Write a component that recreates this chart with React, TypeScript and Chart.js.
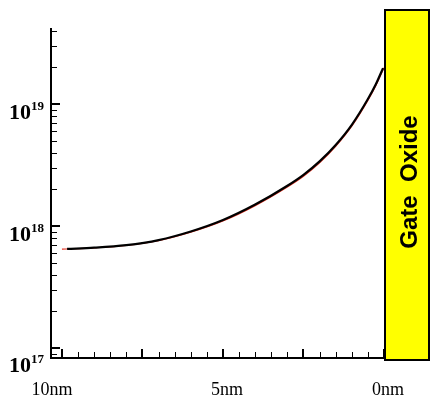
import React, { useEffect, useRef } from "react";
import { Chart, registerables } from "chart.js";

Chart.register(...registerables);

// Depth from the gate oxide interface (nm)
const blackDepth = [9.84, 9, 8, 7, 6, 5, 4, 3, 2.5, 2, 1.5, 1, 0.5, 0.25, 0.03];
const blackConc = [6.49e17, 6.64e17, 6.97e17, 7.67e17, 9.02e17, 1.12e18, 1.5e18, 2.14e18, 2.63e18, 3.39e18, 4.62e18, 6.76e18, 1.1e19, 1.46e19, 1.97e19];

const redDepth = [10, 9, 8, 7, 6, 5, 4, 3, 2.5, 2, 1.5, 1, 0.5, 0.25, 0];
const redConc = [6.46e17, 6.62e17, 6.93e17, 7.6e17, 8.9e17, 1.1e18, 1.47e18, 2.09e18, 2.56e18, 3.3e18, 4.5e18, 6.58e18, 1.07e19, 1.42e19, 1.98e19];

const xLabelValues = [10, 5, 0];
const xLabelTexts = ["10nm", "5nm", "0nm"];
const xMajorTicks = [10, 7.5, 5, 2.5, 0];
const yDecades = [16, 17, 18, 19];
const yLabelDecades = [17, 18, 19];
const boxText = "Gate  Oxide";

const X_MIN = 0;
const X_MAX = 10.34;
const Y_MIN = 8.28e16;
const Y_MAX = 4.2e19;

const overlay = {
  id: "overlay",
  beforeDraw(chart: any) {
    const ctx = chart.ctx;
    ctx.save();
    ctx.fillStyle = "#ffffff";
    ctx.fillRect(0, 0, chart.width, chart.height);
    ctx.restore();
  },
  afterDraw(chart: any) {
    const ctx = chart.ctx;
    const a = chart.chartArea;
    const x = chart.scales.x;
    const y = chart.scales.y;
    ctx.save();
    ctx.strokeStyle = "#000";
    ctx.fillStyle = "#000";

    // y ticks (inward)
    for (const d of yDecades) {
      for (let m = 1; m <= 9; m++) {
        const v = m * Math.pow(10, d);
        if (v < Y_MIN || v > Y_MAX) continue;
        const py = Math.round(y.getPixelForValue(v));
        const major = m === 1;
        ctx.lineWidth = major ? 2 : 1;
        const off = major ? 0 : 0.5;
        ctx.beginPath();
        ctx.moveTo(a.left, py + off);
        ctx.lineTo(a.left + (major ? 9 : 6), py + off);
        ctx.stroke();
      }
    }

    // x ticks (inward)
    for (let i = 0; i <= 20; i++) {
      const v = i * 0.5;
      const px = Math.round(x.getPixelForValue(v));
      const major = xMajorTicks.includes(v);
      ctx.lineWidth = major ? 2 : 1;
      const off = major ? 0 : 0.5;
      ctx.beginPath();
      ctx.moveTo(px + off, a.bottom);
      ctx.lineTo(px + off, a.bottom - (major ? 9 : 6));
      ctx.stroke();
    }

    // axis lines
    ctx.lineWidth = 2;
    ctx.beginPath();
    ctx.moveTo(a.left, a.top);
    ctx.lineTo(a.left, a.bottom);
    ctx.lineTo(a.right, a.bottom);
    ctx.stroke();

    // y labels 10^n
    for (const d of yLabelDecades) {
      const py = y.getPixelForValue(Math.pow(10, d));
      let base = py + 15;
      if (py > a.bottom - 20) base = Math.max(base, a.bottom + 14);
      ctx.font = "bold 22px 'Liberation Serif'";
      ctx.textAlign = "left";
      ctx.textBaseline = "alphabetic";
      ctx.fillText("10", 9, base);
      const w = ctx.measureText("10").width;
      ctx.font = "bold 13px 'Liberation Serif'";
      ctx.fillText(String(d), 9 + w, base - 9);
    }

    // x labels
    ctx.font = "18px 'Liberation Serif'";
    ctx.textAlign = "center";
    ctx.textBaseline = "alphabetic";
    xLabelValues.forEach((v, i) => {
      const px = x.getPixelForValue(v);
      const cx = i === 0 ? a.left + 1 : px + 4;
      ctx.fillText(xLabelTexts[i], cx, 395);
    });

    // gate oxide box
    const bx = a.right;
    const bTop = 10;
    const bBot = 360;
    ctx.fillStyle = "#ffff00";
    ctx.fillRect(bx, bTop, 429 - bx, bBot - bTop);
    ctx.lineWidth = 2;
    ctx.strokeStyle = "#000";
    ctx.strokeRect(bx + 1, bTop, 428 - bx, bBot - bTop);

    ctx.save();
    ctx.translate(410, (bTop + bBot) / 2 - 3);
    ctx.rotate(-Math.PI / 2);
    ctx.fillStyle = "#000";
    ctx.font = "bold 24px 'Liberation Sans'";
    ctx.textAlign = "center";
    ctx.textBaseline = "middle";
    ctx.fillText(boxText, 0, 0);
    ctx.restore();

    ctx.restore();
  },
};

export default function App() {
  const ref = useRef<HTMLCanvasElement | null>(null);
  useEffect(() => {
    if (!ref.current) return;
    const chart = new Chart(ref.current, {
      type: "scatter",
      data: {
        datasets: [
          {
            label: "black",
            data: blackDepth.map((d, i) => ({ x: d, y: blackConc[i] })),
            showLine: true,
            borderColor: "#000000",
            borderWidth: 2.2,
            pointRadius: 0,
            cubicInterpolationMode: "monotone",
            order: 0,
          },
          {
            label: "red",
            data: redDepth.map((d, i) => ({ x: d, y: redConc[i] })),
            showLine: true,
            borderColor: "#e03020",
            borderWidth: 1.2,
            pointRadius: 0,
            cubicInterpolationMode: "monotone",
            order: 1,
          },
        ],
      },
      options: {
        animation: false,
        responsive: false,
        devicePixelRatio: 1,
        layout: { padding: { left: 51, right: 46, top: 28, bottom: 43 } },
        plugins: { legend: { display: false }, tooltip: { enabled: false }, title: { display: false } },
        scales: {
          x: { type: "linear", min: X_MIN, max: X_MAX, reverse: true, display: false },
          y: { type: "logarithmic", min: Y_MIN, max: Y_MAX, display: false },
        },
      },
      plugins: [overlay],
    });
    return () => chart.destroy();
  }, []);
  return (
    <div style={{ position: "fixed", left: 0, top: 0, width: 430, height: 401 }}>
      <canvas ref={ref} width={430} height={401} style={{ width: 430, height: 401 }} />
    </div>
  );
}
